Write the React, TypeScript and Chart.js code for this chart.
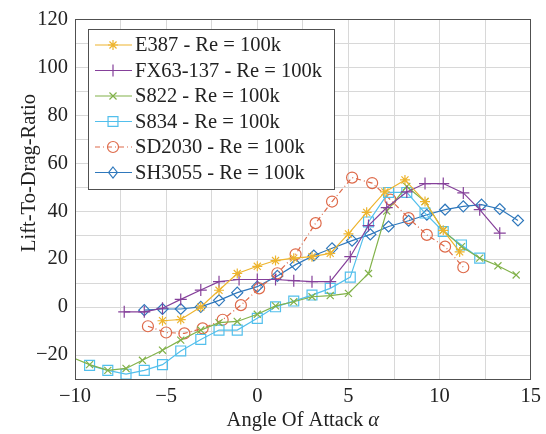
import React, { useEffect, useRef } from 'react';
import { Chart, registerables } from 'chart.js';

Chart.register(...registerables);

// ---- data ----
const e387X = [-5.2, -4.2, -3.1, -2.1, -1.1, 0, 1, 2, 3, 4, 5, 6, 7, 8.1, 9.2, 10.2, 11.1];
const e387Y = [-5.7, -5.2, 0, 7, 14, 17, 19.4, 20.4, 21, 22.4, 30.5, 39.5, 48, 53, 44, 32, 23];

const fx63X = [-7.3, -6.2, -5.2, -4.2, -3.1, -2.1, -1, 0, 1, 2, 3, 4, 5.1, 6.1, 7.1, 8.2, 9.2, 10.2, 11.3, 12.2, 13.3];
const fx63Y = [-2, -2, -0.5, 3.2, 7.1, 10.6, 11.5, 11.5, 11.5, 11, 10.6, 10.6, 21, 34, 41.5, 48, 51.5, 51.5, 47.6, 40.6, 30.8];

const s822X = [-10.5, -9.2, -8.2, -7.2, -6.3, -5.2, -4.2, -3.1, -2.1, -1.1, 0, 1, 2, 3, 4, 5, 6.1, 7.1, 8.2, 9.2, 10.2, 11.2, 12.2, 13.2, 14.2];
const s822Y = [-20, -24, -26.4, -25.6, -22.2, -18, -13.8, -9.6, -6.5, -6, -3, 0.5, 2.2, 4.3, 4.8, 5.7, 14, 40, 50.3, 44, 32, 25.2, 20.4, 17.2, 13.4];

const s834X = [-9.2, -8.2, -7.2, -6.2, -5.2, -4.2, -3.1, -2.1, -1.1, 0, 1, 2, 3, 4, 5.1, 6.1, 7.2, 8.2, 9.2, 10.2, 11.2, 12.2];
const s834Y = [-24.3, -26.4, -28, -26.4, -24, -18.3, -13.5, -9.6, -9.6, -4.7, 0.1, 2.5, 5, 7.8, 12.5, 35.5, 47.8, 47.8, 39.2, 31.5, 25.9, 20.4];

const sd2030X = [-6, -5, -4, -3, -1.9, -0.9, 0.1, 1.1, 2.1, 3.2, 4.1, 5.2, 6.3, 7.3, 8.3, 9.3, 10.3, 11.3];
const sd2030Y = [-8, -10.6, -11, -8.9, -5.3, 0.8, 7.8, 14.1, 22, 35, 44, 54, 51.7, 44.8, 37.1, 30.1, 25.2, 16.6];

const sh3055X = [-6.2, -5.2, -4.2, -3.1, -2.1, -1.1, 0, 1.1, 2.1, 3.1, 4.1, 5.2, 6.2, 7.2, 8.3, 9.3, 10.3, 11.3, 12.3, 13.3, 14.3];
const sh3055Y = [-1.3, -0.8, -0.8, 0.1, 2.8, 6, 8.5, 13, 17.7, 21.5, 24.5, 27.7, 30.3, 33.6, 36, 38.5, 40.6, 42, 42.7, 40.9, 36.1];

const seriesLabels = [
  'E387 - Re = 100k',
  'FX63-137 - Re = 100k',
  'S822 - Re = 100k',
  'S834 - Re = 100k',
  'SD2030 - Re = 100k',
  'SH3055 - Re = 100k',
];

const xTitle = 'Angle Of Attack ';
const xTitleSymbol = 'α';
const yTitle = 'Lift-To-Drag-Ratio';

const FONT = "'Liberation Serif', 'Times New Roman', serif";
const FS = 20.5;

const styles = [
  { color: '#EDB42E', point: 'star', r: 5, dash: [] as number[] },
  { color: '#85409A', point: 'cross', r: 6, dash: [] as number[] },
  { color: '#82B24A', point: 'crossRot', r: 5, dash: [] as number[] },
  { color: '#52BFEC', point: 'rect', r: 7, dash: [] as number[] },
  { color: '#DE6A4A', point: 'circle', r: 5.5, dash: [5, 3, 1, 3] },
  { color: '#2F78BC', point: 'rectRot', r: 5.5, dash: [] as number[] },
];

const seriesX = [e387X, fx63X, s822X, s834X, sd2030X, sh3055X];
const seriesY = [e387Y, fx63Y, s822Y, s834Y, sd2030Y, sh3055Y];

function fmt(v: number) {
  return v < 0 ? '\u2212' + Math.abs(v) : String(v);
}

function drawMarker(ctx: CanvasRenderingContext2D, style: string, x: number, y: number, r: number) {
  ctx.beginPath();
  const line = (a: number) => {
    const dx = Math.cos(a) * r;
    const dy = Math.sin(a) * r;
    ctx.moveTo(x - dx, y - dy);
    ctx.lineTo(x + dx, y + dy);
  };
  if (style === 'star') {
    line(0); line(Math.PI / 2); line(Math.PI / 4); line(-Math.PI / 4);
  } else if (style === 'cross') {
    line(0); line(Math.PI / 2);
  } else if (style === 'crossRot') {
    line(Math.PI / 4); line(-Math.PI / 4);
  } else if (style === 'rect') {
    const s = r * Math.SQRT1_2;
    ctx.rect(x - s, y - s, 2 * s, 2 * s);
  } else if (style === 'circle') {
    ctx.arc(x, y, r, 0, Math.PI * 2);
  } else if (style === 'rectRot') {
    ctx.moveTo(x, y - r);
    ctx.lineTo(x + r * 0.8, y);
    ctx.lineTo(x, y + r);
    ctx.lineTo(x - r * 0.8, y);
    ctx.closePath();
  }
  ctx.stroke();
}

const decorPlugin = {
  id: 'decor',
  afterDraw(chart: any) {
    const ctx: CanvasRenderingContext2D = chart.ctx;
    const a = chart.chartArea;
    ctx.save();
    // frame
    ctx.strokeStyle = '#505050';
    ctx.lineWidth = 1;
    ctx.strokeRect(Math.round(a.left) + 0.5, Math.round(a.top) + 0.5, Math.round(a.right - a.left) - 1, Math.round(a.bottom - a.top));

    // y title
    ctx.fillStyle = '#222';
    ctx.font = `${FS}px ${FONT}`;
    ctx.textAlign = 'center';
    ctx.textBaseline = 'middle';
    ctx.save();
    ctx.translate(30, 173);
    ctx.rotate(-Math.PI / 2);
    ctx.fillText(yTitle, 0, 0);
    ctx.restore();

    // x title
    ctx.textAlign = 'left';
    const w1 = ctx.measureText(xTitle).width;
    ctx.font = `italic ${FS}px ${FONT}`;
    const w2 = ctx.measureText(xTitleSymbol).width;
    const startX = (a.left + a.right) / 2 - (w1 + w2) / 2;
    ctx.font = `${FS}px ${FONT}`;
    ctx.fillText(xTitle, startX, 421);
    ctx.font = `italic ${FS}px ${FONT}`;
    ctx.fillText(xTitleSymbol, startX + w1, 421);

    // legend
    const lx = 88, ly = 29, lw = 246, lh = 160;
    ctx.fillStyle = '#fff';
    ctx.fillRect(lx, ly, lw, lh);
    ctx.strokeStyle = '#505050';
    ctx.lineWidth = 1;
    ctx.strokeRect(lx + 0.5, ly + 0.5, lw, lh);
    ctx.font = `${FS}px ${FONT}`;
    ctx.textBaseline = 'middle';
    ctx.textAlign = 'left';
    seriesLabels.forEach((lab, i) => {
      const st = styles[i];
      const cy = 45 + i * 25.5;
      ctx.strokeStyle = st.color;
      ctx.lineWidth = 1.2;
      ctx.setLineDash(st.dash);
      ctx.beginPath();
      ctx.moveTo(95, cy);
      ctx.lineTo(132, cy);
      ctx.stroke();
      ctx.setLineDash([]);
      drawMarker(ctx, st.point, 113, cy, st.r);
      ctx.fillStyle = '#222';
      ctx.fillText(lab, 135, cy + 1);
    });
    ctx.restore();
  },
};

export default function App() {
  const ref = useRef<HTMLCanvasElement | null>(null);
  useEffect(() => {
    if (!ref.current) return;
    Chart.defaults.font.family = FONT;
    const chart = new Chart(ref.current, {
      type: 'line',
      data: {
        datasets: seriesLabels.map((label, i) => ({
          label,
          data: seriesX[i].map((x, j) => ({ x, y: seriesY[i][j] })),
          borderColor: styles[i].color,
          backgroundColor: 'rgba(0,0,0,0)',
          pointBorderColor: styles[i].color,
          pointBackgroundColor: 'rgba(0,0,0,0)',
          pointStyle: styles[i].point as any,
          pointRadius: styles[i].r,
          pointBorderWidth: 1.2,
          borderWidth: 1.2,
          borderDash: styles[i].dash,
          tension: 0,
          clip: 0,
        })),
      },
      plugins: [decorPlugin],
      options: {
        responsive: false,
        animation: false,
        layout: { padding: { top: 17, right: 15, left: 0, bottom: 0 } },
        plugins: { legend: { display: false }, tooltip: { enabled: false } },
        scales: {
          x: {
            type: 'linear',
            min: -10,
            max: 15,
            afterFit: (s: any) => { s.height = 55; },
            ticks: {
              stepSize: 2.5,
              autoSkip: false,
              maxRotation: 0,
              padding: 5,
              color: '#222',
              font: { size: FS, family: FONT },
              callback: (v: any) => (Math.abs(v % 5) < 1e-9 ? fmt(v) : ''),
            },
            grid: { color: '#d8d8d8', drawTicks: false, lineWidth: 1 },
            border: { display: false },
          },
          y: {
            type: 'linear',
            min: -30,
            max: 120,
            afterFit: (s: any) => { s.width = 75; },
            ticks: {
              stepSize: 10,
              autoSkip: false,
              padding: 7,
              color: '#222',
              font: { size: FS, family: FONT },
              callback: (v: any) => (Math.abs(v % 20) < 1e-9 ? fmt(v) : ''),
            },
            grid: { color: '#d8d8d8', drawTicks: false, lineWidth: 1 },
            border: { display: false },
          },
        },
      },
    } as any);
    return () => chart.destroy();
  }, []);
  return (
    <div style={{ position: 'absolute', left: 0, top: 0, width: 546, height: 434, background: '#fff' }}>
      <canvas ref={ref} width={546} height={434} style={{ display: 'block' }} />
    </div>
  );
}
